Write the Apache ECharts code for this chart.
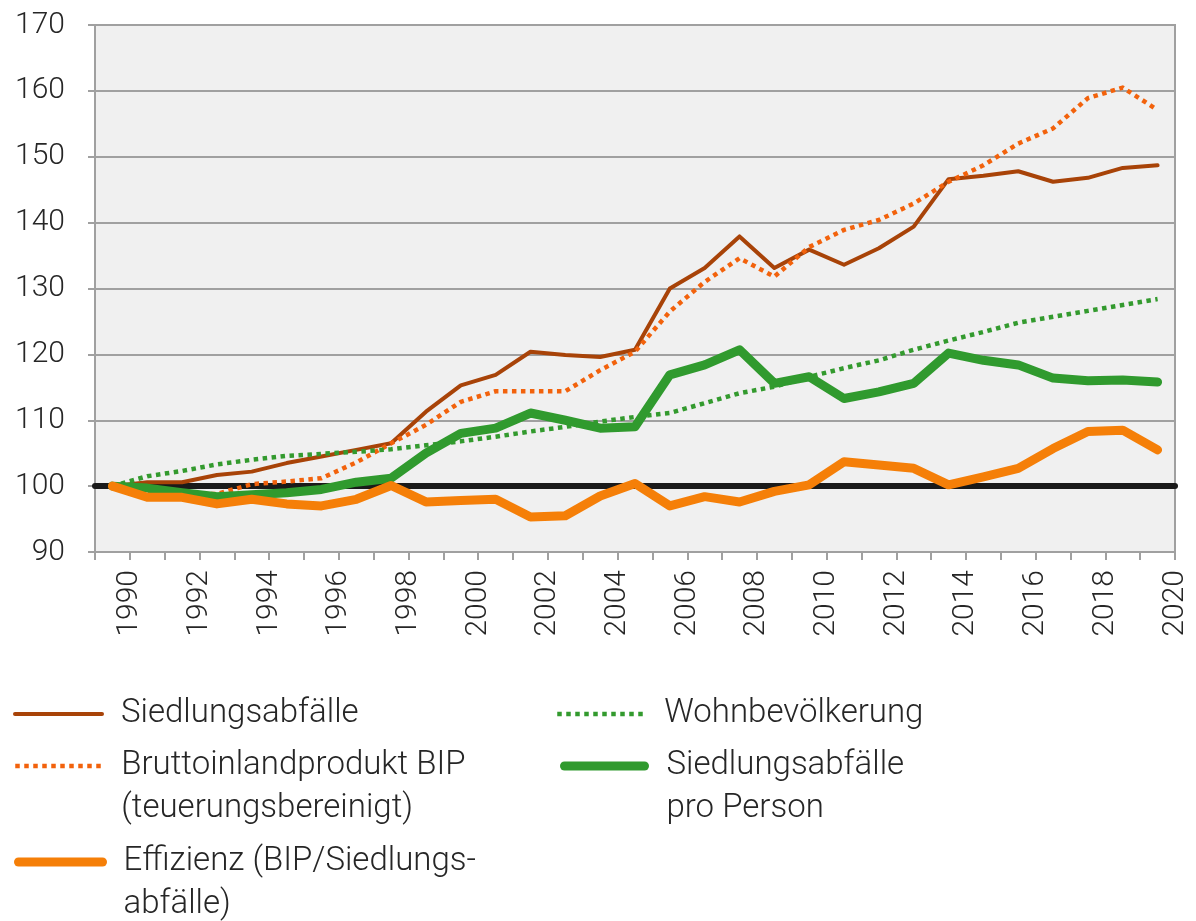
<!DOCTYPE html>
<html>
<head>
<meta charset="utf-8">
<title>Siedlungsabfälle</title>
<script src="https://cdn.jsdelivr.net/npm/echarts@6/dist/echarts.min.js"></script>
<style>
  html, body { margin: 0; padding: 0; background: #fff; }
  #main { width: 1196px; height: 921px; }
</style>
</head>
<body>
<div id="main"></div>
<script>
  // Jahre 1990 - 2020, Index 1990 = 100
  var years = ['1990','1991','1992','1993','1994','1995','1996','1997','1998','1999',
               '2000','2001','2002','2003','2004','2005','2006','2007','2008','2009',
               '2010','2011','2012','2013','2014','2015','2016','2017','2018','2019','2020'];

  var siedlungsabfaelle = [100, 100.6, 100.6, 101.7, 102.2, 103.5, 104.5, 105.5, 106.5, 111.3,
                           115.3, 116.9, 120.4, 119.9, 119.6, 120.7, 130.0, 133.1, 137.9, 133.1,
                           135.9, 133.6, 136.1, 139.4, 146.6, 147.1, 147.8, 146.2, 146.8, 148.3, 148.7];

  var bip = [100, 99.2, 98.9, 98.8, 100.3, 100.7, 101.2, 103.6, 106.5, 109.3,
             112.8, 114.4, 114.4, 114.4, 117.6, 120.4, 126.5, 131.0, 134.6, 131.8,
             136.3, 138.9, 140.4, 142.9, 146.2, 148.7, 152.0, 154.3, 158.9, 160.5, 157.1];

  var wohnbevoelkerung = [100, 101.5, 102.3, 103.3, 104.0, 104.6, 104.9, 105.2, 105.6, 106.2,
                          106.8, 107.5, 108.3, 109.0, 109.8, 110.5, 111.1, 112.6, 114.1, 115.1,
                          116.6, 117.9, 119.1, 120.7, 122.1, 123.4, 124.8, 125.7, 126.6, 127.5, 128.4];

  var proPerson = [100, 99.7, 99.0, 98.4, 98.7, 99.0, 99.5, 100.6, 101.2, 105.0,
                   108.0, 108.8, 111.1, 110.0, 108.8, 109.0, 116.9, 118.4, 120.7, 115.6,
                   116.6, 113.3, 114.3, 115.6, 120.2, 119.1, 118.4, 116.4, 116.0, 116.1, 115.8];

  var effizienz = [100, 98.3, 98.3, 97.3, 98.0, 97.3, 97.0, 98.0, 100.1, 97.6,
                   97.8, 98.0, 95.3, 95.5, 98.5, 100.4, 97.0, 98.4, 97.6, 99.2,
                   100.2, 103.7, 103.2, 102.7, 100.2, 101.4, 102.7, 105.7, 108.3, 108.5, 105.5];

  var yTicks = { min: 90, max: 170, step: 10 };

  var font = 'Roboto';
  var textColor = '#262626';
  var axisGray = '#a0a0a0';

  var myChart = echarts.init(document.getElementById('main'));

  // eine Legende pro Eintrag, damit die zwei Spalten wie im Original sitzen
  // bei zweizeiligen Namen: leere erste Zeile, damit Zeile 1 auf Höhe der Linie steht
  function legendItem(name, left, centerY, width, padLeft, twoLines) {
    return {
      data: [name],
      left: left,
      top: twoLines ? centerY - 64.5 : centerY - 21.5,
      padding: 0,
      itemWidth: width,
      itemHeight: 14,
      selectedMode: false,
      formatter: function (n) { return twoLines ? '\n' + n : n; },
      itemStyle: { opacity: 0 },
      textStyle: {
        fontFamily: font, fontWeight: 300, fontSize: 33, color: textColor,
        lineHeight: 43, padding: [0, 0, 0, padLeft]
      },
      lineStyle: { width: 'inherit', cap: 'inherit' }
    };
  }

  myChart.setOption({
    animation: false,
    backgroundColor: '#ffffff',
    textStyle: { fontFamily: font },
    grid: {
      left: 95, right: 21, top: 25, bottom: 369,
      show: true,
      backgroundColor: '#f0f0f0',
      borderColor: axisGray,
      borderWidth: 2
    },
    legend: [
      legendItem('Siedlungsabfälle', 13, 714, 87, 14, false),
      legendItem('Bruttoinlandprodukt BIP\n(teuerungsbereinigt)', 13, 766, 87, 14, true),
      legendItem('Effizienz (BIP/Siedlungs-\nabfälle)', 14, 862, 84, 16, true),
      legendItem('Wohnbevölkerung', 555, 714, 90, 12, false),
      legendItem('Siedlungsabfälle\npro Person', 560, 766, 80, 17, true)
    ],
    xAxis: [
      {
        type: 'category',
        data: years,
        boundaryGap: true,
        show: false
      },
      {
        // Beschriftung an den Kategoriegrenzen wie im Original
        type: 'value',
        position: 'bottom',
        min: 1989,
        max: 2020,
        interval: 1,
        axisLine: { show: true, lineStyle: { color: axisGray, width: 2 } },
        axisTick: { show: true, length: 8, lineStyle: { color: axisGray, width: 2 } },
        splitLine: { show: false },
        axisLabel: {
          rotate: 90,
          margin: 18,
          fontFamily: font, fontWeight: 300, fontSize: 30, color: textColor,
          formatter: function (v) { return v % 2 === 0 ? String(v) : ''; }
        }
      }
    ],
    yAxis: {
      type: 'value',
      min: yTicks.min,
      max: yTicks.max,
      interval: yTicks.step,
      axisLine: { show: true, lineStyle: { color: axisGray, width: 2 } },
      axisTick: { show: true, length: 7, lineStyle: { color: axisGray, width: 2 } },
      splitLine: { show: true, lineStyle: { color: axisGray, width: 2 } },
      axisLabel: {
        margin: 30,
        fontFamily: font, fontWeight: 300, fontSize: 30, color: textColor
      }
    },
    series: [
      {
        name: 'Basis',
        type: 'line',
        data: [],
        markLine: {
          z: 1,
          silent: true,
          symbol: ['none', 'none'],
          label: { show: false },
          lineStyle: { color: '#1a1a1a', width: 6, type: 'solid', cap: 'round' },
          data: [{ yAxis: 100 }]
        }
      },
      {
        name: 'Siedlungsabfälle',
        type: 'line',
        data: siedlungsabfaelle,
        symbol: 'none',
        color: '#a84308',
        lineStyle: { color: '#a84308', width: 4, cap: 'round', join: 'round' }
      },
      {
        name: 'Bruttoinlandprodukt BIP\n(teuerungsbereinigt)',
        type: 'line',
        data: bip,
        symbol: 'none',
        color: '#f2620c',
        lineStyle: { color: '#f2620c', width: 4.5, type: [4.5, 4.5], cap: 'butt', join: 'round' }
      },
      {
        name: 'Wohnbevölkerung',
        type: 'line',
        data: wohnbevoelkerung,
        symbol: 'none',
        color: '#339a2e',
        lineStyle: { color: '#339a2e', width: 4.5, type: [4.5, 4.5], cap: 'butt', join: 'round' }
      },
      {
        name: 'Siedlungsabfälle\npro Person',
        type: 'line',
        data: proPerson,
        symbol: 'none',
        color: '#309a2e',
        lineStyle: { color: '#309a2e', width: 9, cap: 'round', join: 'round' }
      },
      {
        name: 'Effizienz (BIP/Siedlungs-\nabfälle)',
        type: 'line',
        data: effizienz,
        symbol: 'none',
        color: '#f57f08',
        lineStyle: { color: '#f57f08', width: 9, cap: 'round', join: 'round' }
      }
    ]
  });
</script>
</body>
</html>
